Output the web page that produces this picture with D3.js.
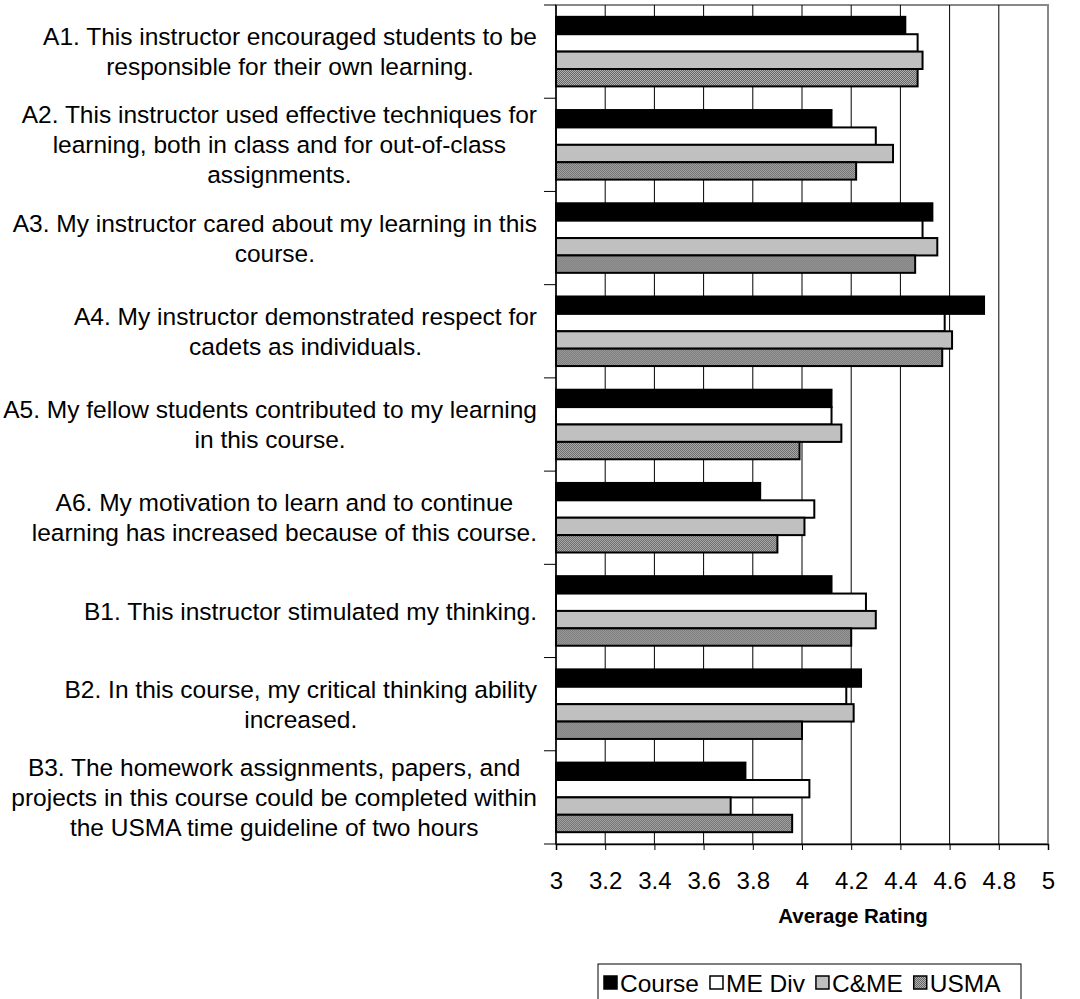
<!DOCTYPE html>
<html>
<head>
<meta charset="utf-8">
<script src="https://cdn.jsdelivr.net/npm/d3@7"></script>
<style>
  body { margin: 0; background: #fff; }
  svg { display: block; font-family: "Liberation Sans", Arial, sans-serif; }
</style>
</head>
<body>
<div id="canvas"></div>
<script>
// survey items, one array of lines per category (top to bottom)
const categories = ["A1", "A2", "A3", "A4", "A5", "A6", "B1", "B2", "B3"];
const labelLines = [
  ["A1. This instructor encouraged students to be", "responsible for their own learning."],
  ["A2. This instructor used effective techniques for", "learning, both in class and for out-of-class", "assignments."],
  ["A3. My instructor cared about my learning in this", "course."],
  ["A4. My instructor demonstrated respect for", "cadets as individuals."],
  ["A5. My fellow students contributed to my learning", "in this course."],
  ["A6. My motivation to learn and to continue", "learning has increased because of this course."],
  ["B1. This instructor stimulated my thinking."],
  ["B2. In this course, my critical thinking ability", "increased."],
  ["B3. The homework assignments, papers, and", "projects in this course could be completed within", "the USMA time guideline of two hours"]
];

const seriesNames = ["Course", "ME Div", "C&ME", "USMA"];
const course = [4.42, 4.12, 4.53, 4.74, 4.12, 3.83, 4.12, 4.24, 3.77];
const meDiv  = [4.47, 4.30, 4.49, 4.58, 4.12, 4.05, 4.26, 4.18, 4.03];
const cme    = [4.49, 4.37, 4.55, 4.61, 4.16, 4.01, 4.30, 4.21, 3.71];
const usma   = [4.47, 4.22, 4.46, 4.57, 3.99, 3.90, 4.20, 4.00, 3.96];
const xTicks = [3, 3.2, 3.4, 3.6, 3.8, 4, 4.2, 4.4, 4.6, 4.8, 5];

const width = 1080, height = 999;
const fontSize = 24.5;

const svg = d3.select("#canvas").append("svg")
  .attr("width", width)
  .attr("height", height);

const defs = svg.append("defs");
const pat = defs.append("pattern")
  .attr("id", "dots")
  .attr("width", 2).attr("height", 2)
  .attr("patternUnits", "userSpaceOnUse");
pat.append("rect").attr("width", 2).attr("height", 2).attr("fill", "#b0b0b0");
pat.append("rect").attr("width", 1).attr("height", 1).attr("fill", "#666");
pat.append("rect").attr("x", 1).attr("y", 1).attr("width", 1).attr("height", 1).attr("fill", "#666");

const fills = ["#000", "#fff", "#c0c0c0", "url(#dots)"];
const values = [course, meDiv, cme, usma];

const plot = { left: 556, right: 1048, top: 5, bottom: 844 };

const x = d3.scaleLinear().domain([3, 5]).range([plot.left, plot.right]);

const y0 = d3.scaleBand().domain(categories).range([plot.top, plot.bottom]);
const y1 = d3.scaleBand().domain(seriesNames).range([0, y0.bandwidth()])
  .paddingInner(0).paddingOuter(0.68);

// plot frame
svg.append("rect")
  .attr("x", plot.left).attr("y", plot.top)
  .attr("width", plot.right - plot.left).attr("height", plot.bottom - plot.top)
  .attr("fill", "#fff").attr("stroke", "#888").attr("stroke-width", 2);

// vertical gridlines
svg.append("g").selectAll("line")
  .data(xTicks.slice(1, -1))
  .join("line")
  .attr("x1", d => x(d)).attr("x2", d => x(d))
  .attr("y1", plot.top).attr("y2", plot.bottom)
  .attr("stroke", "#000").attr("stroke-width", 1);

// bars
const groups = svg.append("g").selectAll("g")
  .data(categories)
  .join("g")
  .attr("transform", d => `translate(0,${y0(d)})`);

groups.selectAll("rect")
  .data((c, i) => seriesNames.map((s, j) => ({ s, j, v: values[j][i] })))
  .join("rect")
  .attr("x", x(3))
  .attr("y", d => y1(d.s))
  .attr("width", d => x(d.v) - x(3))
  .attr("height", y1.bandwidth())
  .attr("fill", d => fills[d.j])
  .attr("stroke", "#000")
  .attr("stroke-width", 2);

// x axis
const xAxis = svg.append("g")
  .attr("transform", `translate(0,${plot.bottom})`)
  .call(d3.axisBottom(x).tickValues(xTicks).tickSize(6).tickPadding(22).tickFormat(d3.format("")));
xAxis.select(".domain").attr("stroke", "#000").attr("stroke-width", 1.5);
xAxis.selectAll(".tick line").attr("stroke", "#000");
xAxis.selectAll("text").attr("font-size", 24).attr("fill", "#000")
  .attr("font-family", "Liberation Sans, Arial, sans-serif");

// y axis: ticks between categories
const yTickPos = categories.map(c => y0(c)).concat([plot.bottom]);
svg.append("line")
  .attr("x1", plot.left).attr("x2", plot.left)
  .attr("y1", plot.top).attr("y2", plot.bottom)
  .attr("stroke", "#000").attr("stroke-width", 1.5);
svg.append("g").selectAll("line")
  .data(yTickPos)
  .join("line")
  .attr("x1", plot.left - 12).attr("x2", plot.left)
  .attr("y1", d => d).attr("y2", d => d)
  .attr("stroke", "#000");

// category labels, centred blocks right-aligned to the axis
const lineH = 30;
const labelRight = 537;
labelLines.forEach((lines, i) => {
  const cy = y0(categories[i]) + y0.bandwidth() / 2;
  const t = svg.append("text")
    .attr("font-size", fontSize)
    .attr("text-anchor", "middle")
    .attr("fill", "#000");
  lines.forEach((ln, k) => {
    t.append("tspan")
      .attr("y", cy + (k - (lines.length - 1) / 2) * lineH)
      .attr("dy", "0.35em")
      .text(ln);
  });
  let w = 0;
  t.selectAll("tspan").each(function () { w = Math.max(w, this.getComputedTextLength()); });
  t.selectAll("tspan").attr("x", labelRight - w / 2);
});

// axis title
svg.append("text")
  .attr("x", 853)
  .attr("y", 916)
  .attr("dy", "0.35em")
  .attr("text-anchor", "middle")
  .attr("font-size", 20.5)
  .attr("font-weight", "bold")
  .text("Average Rating");

// legend
const legend = svg.append("g");
legend.append("rect")
  .attr("x", 598).attr("y", 964)
  .attr("width", 423).attr("height", 50)
  .attr("fill", "#fff").attr("stroke", "#000").attr("stroke-width", 1);
let lx = 604;
seriesNames.forEach((s, j) => {
  legend.append("rect")
    .attr("x", lx).attr("y", 976)
    .attr("width", 13).attr("height", 13)
    .attr("fill", fills[j]).attr("stroke", "#000").attr("stroke-width", 1.5);
  const t = legend.append("text")
    .attr("x", lx + 16).attr("y", 983)
    .attr("dy", "0.35em")
    .attr("font-size", fontSize)
    .text(s);
  lx += 16 + t.node().getComputedTextLength() + 11;
});
</script>
</body>
</html>
